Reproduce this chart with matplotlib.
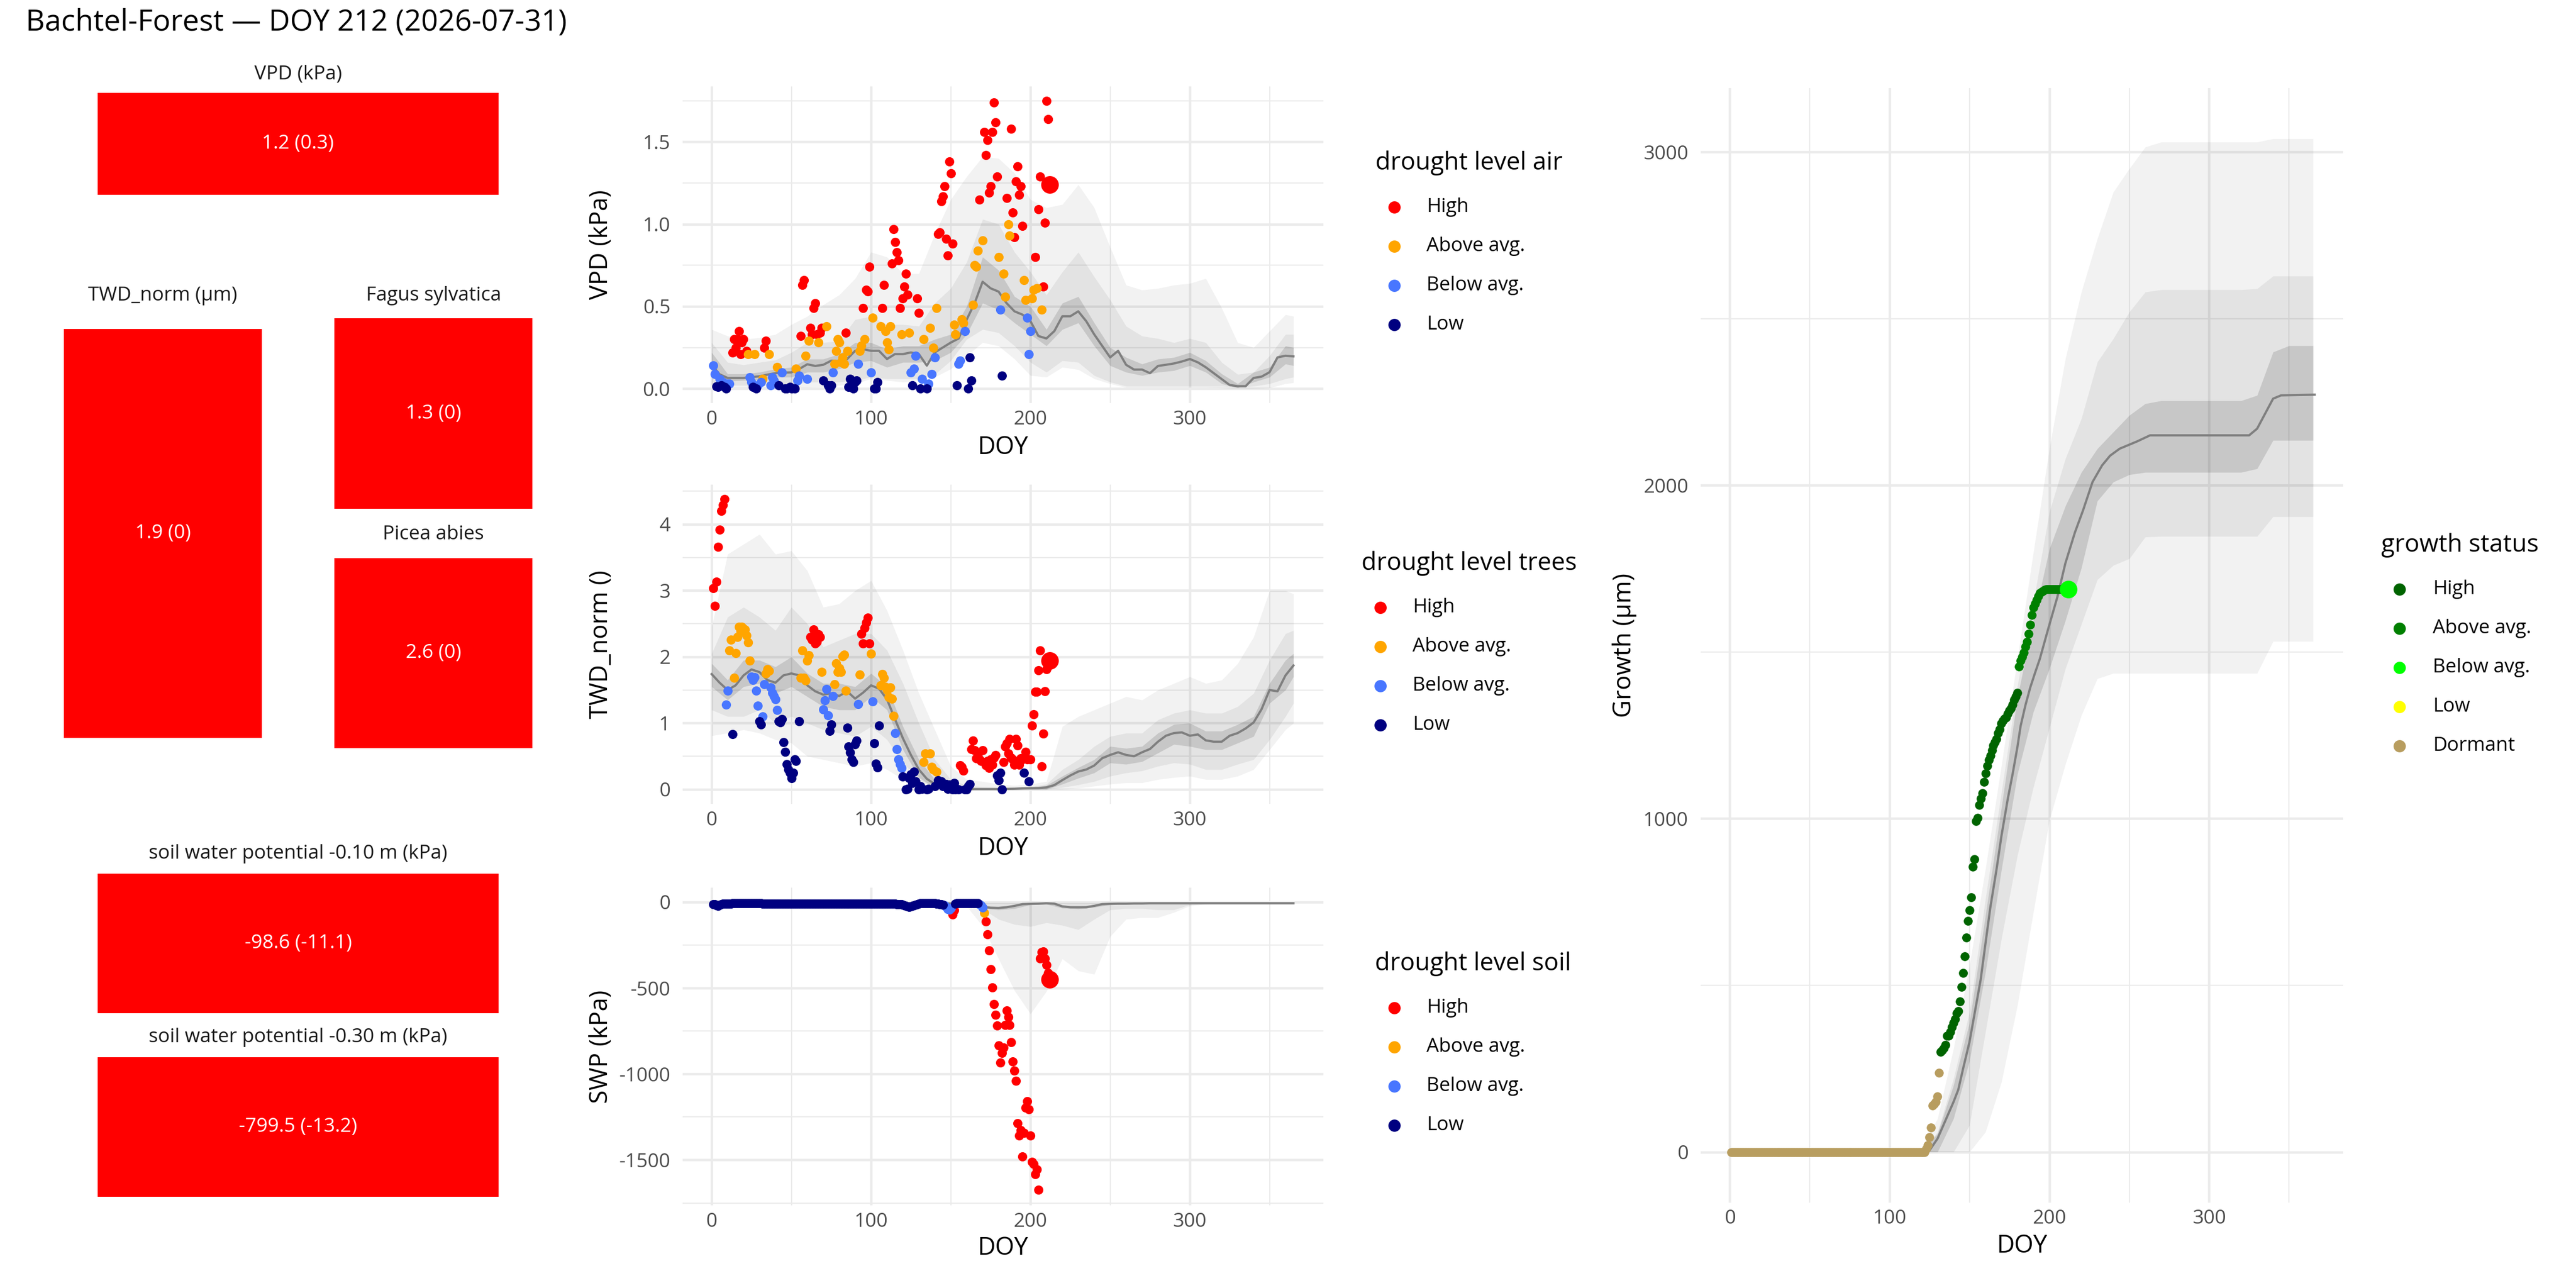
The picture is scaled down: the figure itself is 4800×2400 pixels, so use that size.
import matplotlib
matplotlib.use("Agg")
import matplotlib.pyplot as plt
from matplotlib.patches import Rectangle
from matplotlib.ticker import FormatStrFormatter

plt.rcParams['font.family'] = ['Open Sans', 'DejaVu Sans']
plt.rcParams['axes.unicode_minus'] = False

# ---------------------------------------------------------------- data
title = "Bachtel-Forest \u2014 DOY 212 (2026-07-31)"

class_labels = ["High", "Above avg.", "Below avg.", "Low"]
class_codes = ["H", "A", "B", "L"]
drought_colors = ["#FF0000", "#FFA500", "#4876FF", "#000080"]
growth_labels = ["High", "Above avg.", "Below avg.", "Low", "Dormant"]
growth_codes = ["H", "A", "B", "L", "D"]
growth_colors = ["#006400", "#008000", "#00FF00", "#FFFF00", "#B89D5F"]

tile_labels = ["VPD (kPa)", "TWD_norm (\u00b5m)", "Fagus sylvatica", "Picea abies",
               "soil water potential -0.10 m (kPa)", "soil water potential -0.30 m (kPa)"]
tile_values = ["1.2 (0.3)", "1.9 (0)", "1.3 (0)", "2.6 (0)", "-98.6 (-11.1)", "-799.5 (-13.2)"]

# ---- VPD daily observations (current year)
vpd_doy = [1, 2, 3, 4, 5, 6, 7, 8, 9, 10,
           11, 13, 14, 15, 16, 17, 18, 19, 20, 22,
           23, 24, 25, 26, 27, 28, 29, 31, 32, 33,
           34, 36, 37, 38, 39, 41, 42, 44, 46, 47,
           49, 50, 52, 53, 54, 55, 56, 57, 58, 59,
           60, 61, 62, 63, 64, 65, 66, 67, 68, 69,
           70, 72, 73, 74, 75, 76, 77, 78, 79, 80,
           81, 82, 83, 84, 85, 86, 87, 88, 89, 90,
           91, 92, 93, 94, 95, 96, 97, 98, 99, 100,
           101, 102, 103, 104, 106, 107, 108, 109, 110, 111,
           112, 113, 114, 115, 116, 117, 118, 119, 120, 121,
           122, 123, 124, 125, 126, 127, 128, 129, 130, 131,
           132, 133, 135, 136, 137, 138, 139, 140, 141, 142,
           143, 144, 145, 146, 147, 148, 149, 150, 151, 152,
           153, 154, 155, 156, 157, 158, 159, 161, 162, 163,
           164, 165, 166, 167, 168, 170, 171, 172, 173, 174,
           175, 176, 177, 178, 179, 180, 181, 182, 183, 184,
           185, 186, 187, 188, 189, 190, 191, 192, 193, 194,
           195, 196, 197, 198, 199, 200, 201, 202, 203, 204,
           205, 206, 207, 208, 209, 210, 211, 212]
vpd_val = [.14, .09, .015, .01, .06, .02, .04, .01, .00, .03,
           .03, .22, .30, .25, .30, .35, .21, .28, .30, .23,
           .21, .07, .04, .01, .21, .00, .02, .04, .06, .25,
           .29, .21, .02, .07, .05, .13, .02, .10, .00, .00,
           .01, .00, .00, .12, .05, .08, .32, .63, .66, .20,
           .06, .29, .37, .33, .49, .52, .33, .28, .34, .37,
           .05, .38, .02, .00, .02, .10, .15, .23, .30, .28,
           .16, .19, .15, .34, .23, .01, .06, .05, .00, .04,
           .05, .15, .23, .26, .49, .30, .60, .59, .74, .10,
           .43, .00, .00, .04, .38, .49, .63, .35, .28, .24,
           .38, .76, .97, .89, .83, .78, .49, .33, .55, .62,
           .70, .57, .34, .10, .02, .12, .20, .55, .46, .00,
           .06, .30, .00, .03, .37, .09, .25, .19, .49, .94,
           .95, 1.14, 1.17, 1.23, .91, .81, 1.38, 1.31, .88, .39,
           .33, .02, .15, .17, .42, .40, .35, .00, .19, .05,
           .51, .75, .74, .84, 1.15, .90, 1.56, 1.42, 1.51, 1.19,
           1.23, 1.56, 1.74, 1.62, 1.29, .80, .48, .08, .70, .56,
           1.16, 1.00, .93, 1.58, 1.07, .92, 1.26, 1.35, 1.18, 1.23,
           .99, .66, .54, .43, .21, .35, .55, .60, .80, .61,
           1.09, 1.29, .48, .62, 1.01, 1.75, 1.64, 1.24]
vpd_cls = ("BBLLBLBLLB" "BHHHHHHHHH" "ABBLALBBAH" "HABBBALBLL" "LLLABBHHHA"
           "BAHHHHHAHH" "LALLLBAAAA" "AAAHALLLLL" "LBAAHAHHHB" "ALLLAHHAAA"
           "AHHHHHHAHH" "HHABLBBHHL" "BALBABABAH" "HHHHHHHHHA" "ALBBAABLLL"
           "AAAAHAHHHH" "HHHHHABLAA" "HAAHHHHHHH" "HAABBBAAHA" "HHAHHHHH")

# ---- TWD_norm daily observations
twd_doy = [1, 2, 3, 4, 5, 6, 7, 8, 9, 10,
           11, 12, 13, 14, 15, 16, 17, 18, 19, 20,
           21, 22, 23, 24, 25, 26, 27, 28, 29, 30,
           31, 32, 33, 34, 35, 36, 37, 38, 39, 40,
           41, 42, 43, 44, 45, 46, 47, 48, 49, 50,
           51, 52, 53, 55, 56, 57, 58, 59, 60, 61,
           62, 63, 64, 65, 66, 67, 68, 69, 70, 71,
           72, 73, 74, 75, 76, 77, 78, 79, 80, 81,
           82, 83, 84, 85, 86, 87, 88, 89, 90, 91,
           92, 93, 94, 95, 96, 97, 98, 99, 100, 101,
           102, 103, 104, 105, 106, 107, 108, 109, 110, 111,
           112, 113, 114, 115, 116, 117, 118, 119, 120, 122,
           123, 124, 125, 126, 127, 128, 130, 131, 132, 133,
           134, 135, 136, 137, 138, 139, 140, 141, 142, 143,
           144, 145, 146, 147, 148, 149, 150, 151, 152, 153,
           154, 155, 156, 157, 158, 159, 160, 161, 162, 163,
           164, 165, 166, 167, 168, 169, 170, 171, 172, 173,
           174, 175, 176, 177, 178, 179, 180, 181, 182, 183,
           184, 185, 186, 187, 188, 189, 190, 191, 192, 193,
           194, 195, 196, 197, 198, 199, 200, 201, 202, 203,
           204, 205, 206, 207, 208, 209, 210, 211, 212]
twd_val = [3.04, 2.77, 3.13, 3.66, 3.92, 4.20, 4.29, 4.38, 1.28, 1.49,
           2.10, 2.26, 0.83, 1.68, 2.06, 2.30, 2.45, 2.39, 2.45, 2.43,
           2.41, 2.32, 2.22, 1.94, 1.70, 1.65, 1.69, 1.49, 1.26, 1.03,
           0.98, 1.10, 1.59, 1.75, 1.81, 1.79, 1.54, 1.46, 1.41, 1.36,
           1.20, 1.03, 1.01, 1.06, 0.71, 0.57, 0.38, 0.30, 0.25, 0.17,
           0.25, 0.45, 0.43, 1.03, 1.68, 2.10, 1.68, 1.64, 1.94, 2.02,
           2.30, 2.26, 2.41, 2.20, 2.23, 2.34, 2.30, 1.77, 1.21, 1.34,
           1.51, 1.12, 0.88, 0.98, 1.41, 1.59, 1.90, 1.77, 1.83, 1.77,
           2.01, 2.03, 1.49, 0.93, 0.65, 0.56, 0.45, 0.41, 0.68, 0.74,
           1.29, 1.73, 2.35, 2.20, 2.44, 2.52, 2.59, 2.20, 2.05, 1.33,
           0.70, 0.39, 0.33, 0.96, 1.57, 1.74, 1.68, 1.55, 1.50, 1.39,
           1.54, 1.37, 1.11, 0.85, 0.61, 0.45, 0.38, 0.32, 0.19, 0.00,
           0.01, 0.17, 0.23, 0.10, 0.27, 0.12, 0.00, 0.05, 0.01, 0.41,
           0.54, 0.00, 0.01, 0.54, 0.34, 0.30, 0.05, 0.27, 0.14, 0.10,
           0.12, 0.05, 0.05, 0.08, 0.01, 0.07, 0.03, 0.00, 0.10, 0.00,
           0.01, 0.00, 0.36, 0.34, 0.28, 0.00, 0.00, 0.05, 0.08, 0.61,
           0.74, 0.59, 0.47, 0.52, 0.45, 0.43, 0.59, 0.41, 0.36, 0.43,
           0.32, 0.45, 0.37, 0.48, 0.52, 0.21, 0.14, 0.25, 0.00, 0.41,
           0.65, 0.70, 0.54, 0.76, 0.48, 0.45, 0.37, 0.76, 0.66, 0.37,
           0.47, 0.45, 0.25, 0.57, 0.45, 0.12, 0.45, 0.96, 1.13, 1.47,
           1.47, 1.80, 2.10, 0.35, 0.84, 1.48, 1.81, 1.86, 1.94]
twd_cls = ("HHHHHHHHBB" "AALAAAAAAA" "AAAABBBBBL" "LBBAAABBBB" "BLLLLLLLLL"
           "LLLLAAAAAA" "HHHHHHHABB" "BBLLBAAAAA" "AAALLLLLLL" "BAHHHHHHAB"
           "LLLLAAAAAA" "AAABBBBBLL" "LLLLLLLLLA" "ALLAAALALL" "LLLLLLLLLL"
           "LLHHHLLLLH" "HHHHHHHHHH" "HHHHHLLLLH" "HHHHHHHHHH" "HHLHHLHHHH"
           "HHHHHHHHH")

# ---- soil water potential daily observations (DOY 1..212)
swp_doy = list(range(1, 213))
swp_val = [-12, -14, -20, -22, -15, -12, -10, -10, -9, -9,
           -9, -9, -8, -8, -8, -8, -8, -8, -8, -8,
           -8, -8, -8, -8, -8, -8, -8, -8, -8, -8,
           -8, -9, -9, -9, -9, -9, -9, -9, -9, -9,
           -9, -9, -9, -9, -9, -9, -9, -9, -9, -9,
           -9, -9, -9, -9, -9, -9, -9, -9, -9, -9,
           -9, -9, -9, -9, -9, -9, -9, -9, -9, -9,
           -9, -9, -9, -9, -9, -9, -9, -9, -9, -9,
           -9, -9, -9, -9, -9, -9, -9, -9, -9, -9,
           -9, -9, -9, -9, -9, -9, -9, -9, -9, -9,
           -9, -9, -9, -9, -9, -9, -9, -9, -9, -10,
           -10, -10, -10, -10, -11, -12, -12, -13, -14, -15,
           -18, -22, -25, -28, -26, -22, -18, -15, -12, -10,
           -8, -8, -7, -6, -6, -6, -6, -6, -7, -8,
           -9, -10, -12, -14, -15, -19, -28, -40, -45, -35,
           -72, -48, -10, -8, -6, -5, -5, -6, -8, -8,
           -8, -6, -5, -5, -5, -6, -7, -12, -18, -30,
           -63, -112, -187, -281, -392, -496, -594, -655, -718, -834,
           -935, -878, -845, -715, -631, -668, -715, -815, -927, -980,
           -1039, -1286, -1358, -1328, -1480, -1343, -1196, -1159, -1204, -1358,
           -1510, -1525, -1582, -1555, -1675, -329, -292, -287, -329, -366,
           -411, -449]
swp_cls = ("LLLLLLLLLL" "LLLLLLLLLL" "LLLLLLLLLL" "LLLLLLLLLL" "LLLLLLLLLL"
           "LLLLLLLLLL" "LLLLLLLLLL" "LLLLLLLLLL" "LLLLLLLLLL" "LLLLLLLLLL"
           "LLLLLLLLLL" "LLLLLLLLLL" "LLLLLLLLLL" "LLLLLLLLLL" "LLLLLBBBBB"
           "HHLLLLLLLL" "LLLLLLLBBB" "AHHHHHHHHH" "HHHHHHHHHH" "HHHHHHHHHH"
           "HHHHHHHHHH" "HH")

# ---- cumulative growth daily observations (DOY 1..212)
gro_doy = list(range(1, 213))
gro_val = [0, 0, 0, 0, 0, 0, 0, 0, 0, 0,
           0, 0, 0, 0, 0, 0, 0, 0, 0, 0,
           0, 0, 0, 0, 0, 0, 0, 0, 0, 0,
           0, 0, 0, 0, 0, 0, 0, 0, 0, 0,
           0, 0, 0, 0, 0, 0, 0, 0, 0, 0,
           0, 0, 0, 0, 0, 0, 0, 0, 0, 0,
           0, 0, 0, 0, 0, 0, 0, 0, 0, 0,
           0, 0, 0, 0, 0, 0, 0, 0, 0, 0,
           0, 0, 0, 0, 0, 0, 0, 0, 0, 0,
           0, 0, 0, 0, 0, 0, 0, 0, 0, 0,
           0, 0, 0, 0, 0, 0, 0, 0, 0, 0,
           0, 0, 0, 0, 0, 0, 0, 0, 0, 0,
           0, 0, 9, 20, 45, 74, 139, 145, 151, 166,
           237, 300, 306, 312, 322, 348, 349, 360, 375, 387,
           399, 416, 422, 452, 495, 537, 587, 643, 693, 725,
           764, 856, 879, 992, 1002, 1041, 1061, 1077, 1110, 1136,
           1159, 1177, 1189, 1206, 1220, 1230, 1239, 1256, 1268, 1285,
           1294, 1300, 1304, 1315, 1324, 1331, 1342, 1356, 1366, 1377,
           1456, 1474, 1486, 1499, 1516, 1530, 1555, 1582, 1611, 1633,
           1645, 1656, 1667, 1677, 1680, 1683, 1686, 1688, 1688, 1688,
           1688, 1688, 1688, 1688, 1688, 1688, 1688, 1688, 1688, 1688,
           1688, 1688]
gro_cls = ("DDDDDDDDDD" "DDDDDDDDDD" "DDDDDDDDDD" "DDDDDDDDDD" "DDDDDDDDDD"
           "DDDDDDDDDD" "DDDDDDDDDD" "DDDDDDDDDD" "DDDDDDDDDD" "DDDDDDDDDD"
           "DDDDDDDDDD" "DDDDDDDDDD" "DDDDDDDDDD" "DHHHHHHHHH" "HHHHHHHHHH"
           "HHHHHHHHHH" "HHHHHHHHHH" "HHHHHHHHHH" "AAAAAAAAAA" "AAAAAAAAAA"
           "AAAAAAAAAA" "AB")

# ---- climatology: median (5-day) and quantile bands (10-day)
med_doy = list(range(0, 366, 5))
band_doy = list(range(0, 361, 10)) + [365]

vpd_med = [.145, .087, .065, .065, .065, .07, .075, .085, .094, .097,
           .099, .12, .148, .138, .145, .17, .167, .18, .23, .24,
           .23, .23, .18, .21, .21, .22, .21, .14, .22, .25,
           .28, .305, .42, .52, .65, .61, .59, .52, .47, .45,
           .41, .32, .305, .35, .44, .44, .47, .41, .33, .26,
           .19, .23, .145, .116, .116, .094, .138, .145, .153, .165,
           .18, .16, .13, .094, .058, .022, .015, .015, .065, .073,
           .10, .19, .20, .196]
vpd_q_outer_lo = [.015, .007, .007, .007, .007, .007, .007, .01, .02, .03,
                  .06, .05, .04, .05, .07, .12, .20, .28, .26, .18,
                  .08, .07, .13, .116, .06, .03, .007, .007, .007, .007,
                  .007, .007, .005, 0, 0, .005, .03, .036]
vpd_q_outer_hi = [.36, .32, .30, .31, .33, .39, .44, .51, .57, .67,
                  .83, .80, .70, .70, .94, 1.15, 1.29, 1.41, 1.40, 1.31,
                  1.15, 1.10, 1.12, 1.24, 1.10, .86, .63, .60, .61, .63,
                  .64, .67, .49, .28, .25, .35, .45, .44]
vpd_q_mid_lo = [.03, .02, .02, .02, .02, .02, .04, .04, .04, .05,
                .07, .06, .06, .06, .087, .17, .30, .36, .34, .26,
                .16, .10, .17, .16, .08, .04, .015, .015, .015, .015,
                .015, .015, .015, .008, .015, .03, .06, .07]
vpd_q_mid_hi = [.28, .16, .145, .16, .174, .22, .28, .28, .29, .42,
                .44, .39, .39, .38, .52, .61, .77, 1.03, 1.0, .83,
                .71, .57, .71, .83, .68, .54, .38, .32, .305, .28,
                .305, .28, .16, .087, .10, .20, .33, .33]
vpd_q_in_lo = [.10, .045, .05, .055, .07, .07, .10, .10, .12, .16,
               .17, .13, .16, .16, .17, .22, .33, .52, .48, .40,
               .33, .26, .36, .40, .26, .14, .10, .08, .10, .11,
               .14, .10, .03, .005, .04, .07, .15, .14]
vpd_q_in_hi = [.22, .09, .09, .10, .12, .13, .18, .18, .21, .28,
               .28, .24, .26, .26, .30, .33, .50, .80, .72, .56,
               .50, .36, .52, .56, .40, .25, .19, .15, .18, .19,
               .22, .17, .09, .03, .10, .13, .26, .25]

twd_med = [1.74, 1.61, 1.50, 1.57, 1.72, 1.81, 1.77, 1.65, 1.61, 1.72,
           1.75, 1.72, 1.57, 1.48, 1.43, 1.45, 1.41, 1.48, 1.37, 1.46,
           1.57, 1.52, 1.36, 1.06, .77, .52, .30, .16, .08, .03,
           .01, .005, .005, .005, .005, .005, .005, .008, .01, .015,
           .018, .02, .03, .065, .14, .21, .27, .30, .36, .47,
           .52, .56, .52, .50, .56, .61, .72, .81, .85, .86,
           .81, .83, .74, .72, .72, .81, .85, .92, 1.01, 1.21,
           1.50, 1.48, 1.72, 1.87]
twd_q_outer_lo = [.81, .85, .90, .85, .75, .70, .50, .45, .40, .35,
                  .40, .30, .15, .03, 0, 0, 0, 0, 0, 0,
                  0, 0, 0, .02, .05, .08, .10, .10, .15, .18,
                  .20, .15, .15, .20, .30, .60, .90, 1.0]
twd_q_outer_hi = [2.45, 3.55, 3.7, 3.85, 3.55, 3.6, 3.3, 2.75, 2.8, 3.0,
                  3.15, 2.7, 2.1, 1.45, .9, .35, .15, .12, .08, .06,
                  .08, .12, .95, 1.1, 1.2, 1.3, 1.4, 1.35, 1.5, 1.6,
                  1.7, 1.6, 1.65, 1.9, 2.3, 3.0, 3.0, 2.95]
twd_q_mid_lo = [1.2, 1.1, 1.1, 1.2, 1.0, 1.1, 1.0, .9, .85, .8,
                .95, .75, .4, .15, .03, 0, 0, 0, 0, 0,
                0, 0, .03, .07, .12, .2, .25, .28, .35, .4,
                .38, .3, .3, .38, .45, .75, 1.1, 1.3]
twd_q_mid_hi = [2.05, 2.6, 2.75, 2.6, 2.4, 2.75, 2.5, 2.15, 2.25, 2.35,
                2.35, 2.1, 1.6, 1.0, .45, .15, .06, .04, .03, .03,
                .04, .08, .3, .45, .65, .8, .85, .85, 1.05, 1.15,
                1.2, 1.15, 1.15, 1.25, 1.45, 1.95, 2.35, 2.4]
twd_q_in_lo = [1.55, 1.35, 1.55, 1.6, 1.45, 1.55, 1.4, 1.25, 1.2, 1.2,
               1.4, 1.2, .6, .18, .02, 0, 0, 0, 0, 0,
               0, 0, .08, .17, .25, .4, .38, .42, .55, .68,
               .65, .6, .6, .7, .8, 1.3, 1.5, 1.7]
twd_q_in_hi = [1.9, 1.65, 1.95, 1.95, 1.85, 2.0, 1.75, 1.6, 1.6, 1.55,
               1.75, 1.55, .95, .45, .15, .03, .01, .01, .01, .02,
               .03, .06, .2, .33, .45, .65, .62, .65, .85, .98,
               1.0, .88, .88, .98, 1.1, 1.6, 1.95, 2.05]

swp_med = [-8, -8, -8, -8, -8, -8, -8, -8, -8, -8,
           -8, -8, -8, -8, -8, -8, -8, -8, -8, -8,
           -8, -8, -8, -8, -8, -8, -8, -8, -8, -8,
           -8, -8, -8, -12, -27, -33, -34, -30, -22, -12,
           -10, -9, -7, -9, -25, -30, -30, -30, -22, -12,
           -10, -9, -9, -8, -8, -7, -7, -7, -7, -7,
           -7, -7, -7, -7, -7, -7, -7, -7, -7, -7,
           -7, -7, -7, -7]
swp_q_outer_lo = [-12, -12, -12, -12, -12, -12, -12, -12, -12, -12,
                  -12, -12, -12, -12, -12, -12, -25, -140, -330, -515,
                  -650, -520, -330, -400, -420, -200, -100, -90, -90, -60,
                  -22, -12, -10, -10, -10, -10, -10, -10]
swp_q_outer_hi = [-3, -3, -3, -3, -3, -3, -3, -3, -3, -3,
                  -3, -3, -3, -3, -3, -3, -3, -3, -3, -3,
                  -3, -3, -3, -3, -3, -3, -3, -3, -3, -3,
                  -3, -3, -3, -3, -3, -3, -3, -3]
swp_q_mid_lo = [-10, -10, -10, -10, -10, -10, -10, -10, -10, -10,
                -10, -10, -10, -10, -10, -10, -12, -40, -100, -130,
                -142, -120, -135, -160, -100, -45, -38, -38, -45, -45,
                -15, -10, -9, -9, -9, -9, -9, -9]
swp_q_mid_hi = [-4, -4, -4, -4, -4, -4, -4, -4, -4, -4,
                -4, -4, -4, -4, -4, -4, -4, -4, -4, -4,
                -4, -4, -4, -4, -4, -4, -4, -4, -4, -4,
                -4, -4, -4, -4, -4, -4, -4, -4]
swp_q_in_lo = [-9, -9, -9, -9, -9, -9, -9, -9, -9, -9,
               -9, -9, -9, -9, -9, -9, -10, -35, -45, -38,
               -15, -12, -35, -40, -30, -15, -12, -11, -10, -10,
               -9, -8, -8, -8, -8, -8, -8, -8]
swp_q_in_hi = [-6, -6, -6, -6, -6, -6, -6, -6, -6, -6,
               -6, -6, -6, -6, -6, -6, -7, -22, -28, -18,
               -6, -4, -20, -25, -15, -7, -6, -6, -5, -5,
               -5, -5, -5, -5, -5, -5, -5, -5]

gro_med_doy = [0, 122, 125, 130, 135, 140, 143, 146, 150, 153,
               157, 160, 163, 167, 170, 174, 177, 180, 182, 185,
               188, 191, 194, 199, 202, 205, 210, 216, 221, 227,
               233, 238, 244, 255, 263, 325, 330, 335, 340, 345,
               366]
gro_med = [0, 0, 5, 40, 95, 150, 187, 250, 330, 410,
           517, 625, 732, 850, 948, 1060, 1134, 1215, 1278, 1340,
           1393, 1437, 1479, 1565, 1615, 1665, 1766, 1859, 1924, 2010,
           2060, 2089, 2110, 2132, 2150, 2150, 2170, 2215, 2260, 2270,
           2272]
gro_q_outer_lo = [0, 0, 0, 0, 0, 0, 0, 0, 0, 0,
                  0, 0, 0, 0, 0, 0, 60, 210, 440, 720,
                  995, 1163, 1310, 1420, 1436, 1436, 1436, 1436, 1436, 1436,
                  1436, 1436, 1436, 1436, 1532, 1532, 1532, 1532]
gro_q_outer_hi = [0, 0, 0, 0, 0, 0, 0, 0, 0, 0,
                  0, 0, 10, 100, 310, 560, 850, 1160, 1480, 1800,
                  2110, 2380, 2580, 2740, 2880, 2950, 3015, 3030, 3030, 3030,
                  3030, 3030, 3030, 3030, 3040, 3040, 3040, 3040]
gro_q_mid_lo = [0, 0, 0, 0, 0, 0, 0, 0, 0, 0,
                0, 0, 0, 0, 0, 80, 360, 640, 890, 1095,
                1272, 1450, 1583, 1717, 1760, 1780, 1845, 1847, 1847, 1847,
                1847, 1847, 1847, 1847, 1906, 1906, 1906, 1906]
gro_q_mid_hi = [0, 0, 0, 0, 0, 0, 0, 0, 0, 0,
                0, 0, 0, 60, 220, 420, 760, 1080, 1400, 1650,
                1920, 2080, 2200, 2370, 2440, 2520, 2580, 2587, 2587, 2587,
                2587, 2587, 2587, 2590, 2628, 2628, 2628, 2628]
gro_q_in_lo = [0, 0, 0, 0, 0, 0, 0, 0, 0, 0,
               0, 0, 0, 0, 100, 273, 540, 847, 1134, 1321,
               1450, 1594, 1752, 1953, 2010, 2032, 2039, 2039, 2039, 2039,
               2039, 2039, 2039, 2050, 2135, 2135, 2135, 2135]
gro_q_in_hi = [0, 0, 0, 0, 0, 0, 0, 0, 0, 0,
               0, 0, 0, 55, 200, 388, 710, 1034, 1364, 1594,
               1809, 1938, 2039, 2110, 2160, 2210, 2245, 2254, 2254, 2254,
               2254, 2254, 2254, 2270, 2400, 2419, 2419, 2419]

# ---------------------------------------------------------------- layout
W, H, DPI = 4800, 2400, 300
fig = plt.figure(figsize=(W / DPI, H / DPI), dpi=DPI)
fig.patch.set_facecolor("white")

XLIM = (-18.2, 383.8)
GRID_C = "#EBEBEB"
TICK_C = "#4D4D4D"
MED_C = "#7F7F7F"


def px_axes(rect):
    x0, y0, x1, y1 = rect
    return fig.add_axes([x0 / W, 1 - y1 / H, (x1 - x0) / W, (y1 - y0) / H])


def style_panel(ax, rect, ylim, ymaj, ymin, ylab, fmt, ylab_x=1120, xlab_off=83):
    x0, y0, x1, y1 = rect
    ax.set_xlim(*XLIM)
    ax.set_ylim(*ylim)
    ax.set_xticks([0, 100, 200, 300])
    ax.set_xticks([50, 150, 250, 350], minor=True)
    ax.set_yticks(ymaj)
    ax.set_yticks(ymin, minor=True)
    ax.yaxis.set_major_formatter(FormatStrFormatter(fmt))
    ax.grid(which="major", color=GRID_C, lw=1.1)
    ax.grid(which="minor", color=GRID_C, lw=0.55)
    ax.set_axisbelow(True)
    for s in ax.spines.values():
        s.set_visible(False)
    ax.tick_params(which="both", length=0, labelsize=8.8, labelcolor=TICK_C)
    ax.tick_params(axis="x", pad=3)
    ax.tick_params(axis="y", pad=5.5)
    ax.set_xlabel("DOY", fontsize=11)
    ax.set_ylabel(ylab, fontsize=11)
    ax.xaxis.set_label_coords(0.5, -xlab_off / (y1 - y0))
    ax.xaxis.label.set_va("center")
    ax.yaxis.set_label_coords((ylab_x - x0) / (x1 - x0), 0.5)
    ax.yaxis.label.set_va("center")


def draw_bands(ax, lo_o, hi_o, lo_m, hi_m, lo_i, hi_i, med_x, med):
    ax.fill_between(band_doy, lo_o, hi_o, color="black", alpha=0.05, lw=0, zorder=1)
    ax.fill_between(band_doy, lo_m, hi_m, color="black", alpha=0.06, lw=0, zorder=1)
    ax.fill_between(band_doy, lo_i, hi_i, color="black", alpha=0.12, lw=0, zorder=1)
    ax.plot(med_x, med, color=MED_C, lw=1.0, zorder=2)


def draw_points(ax, doy, val, cls, codes, colors, s=17, s_big=62):
    for code, col in zip(codes, colors):
        xs = [d for d, c in zip(doy, cls) if c == code]
        ys = [v for v, c in zip(val, cls) if c == code]
        if xs:
            ax.scatter(xs, ys, s=s, color=col, lw=0, zorder=3)
    last = codes.index(cls[-1])
    ax.scatter([doy[-1]], [val[-1]], s=s_big, color=colors[last], lw=0, zorder=4)


# VPD panel
r_vpd = (1272, 161, 2466, 751)
ax1 = px_axes(r_vpd)
draw_bands(ax1, vpd_q_outer_lo, vpd_q_outer_hi, vpd_q_mid_lo, vpd_q_mid_hi,
           vpd_q_in_lo, vpd_q_in_hi, med_doy, vpd_med)
draw_points(ax1, vpd_doy, vpd_val, vpd_cls, class_codes, drought_colors)
style_panel(ax1, r_vpd, (-0.0875, 1.8375), [0, 0.5, 1.0, 1.5], [0.25, 0.75, 1.25, 1.75],
            "VPD (kPa)", "%.1f")

# TWD panel
r_twd = (1272, 903, 2466, 1498)
ax2 = px_axes(r_twd)
draw_bands(ax2, twd_q_outer_lo, twd_q_outer_hi, twd_q_mid_lo, twd_q_mid_hi,
           twd_q_in_lo, twd_q_in_hi, med_doy, twd_med)
draw_points(ax2, twd_doy, twd_val, twd_cls, class_codes, drought_colors)
style_panel(ax2, r_twd, (-0.219, 4.599), [0, 1, 2, 3, 4], [0.5, 1.5, 2.5, 3.5, 4.5],
            "TWD_norm ()", "%d")

# SWP panel
r_swp = (1272, 1654, 2466, 2246)
ax3 = px_axes(r_swp)
draw_bands(ax3, swp_q_outer_lo, swp_q_outer_hi, swp_q_mid_lo, swp_q_mid_hi,
           swp_q_in_lo, swp_q_in_hi, med_doy, swp_med)
draw_points(ax3, swp_doy, swp_val, swp_cls, class_codes, drought_colors)
style_panel(ax3, r_swp, (-1764, 84), [0, -500, -1000, -1500], [-250, -750, -1250, -1750],
            "SWP (kPa)", "%d", xlab_off=80)

# Growth panel
r_gro = (3169, 164, 4366, 2241)
ax4 = px_axes(r_gro)
draw_bands(ax4, gro_q_outer_lo, gro_q_outer_hi, gro_q_mid_lo, gro_q_mid_hi,
           gro_q_in_lo, gro_q_in_hi, gro_med_doy, gro_med)
draw_points(ax4, gro_doy, gro_val, gro_cls, growth_codes, growth_colors, s=16, s_big=62)
style_panel(ax4, r_gro, (-152, 3192), [0, 1000, 2000, 3000], [500, 1500, 2500],
            "Growth (\u00b5m)", "%d", ylab_x=3027, xlab_off=81)

# ---------------------------------------------------------------- overlay (title, tiles, legends)
ov = fig.add_axes([0, 0, 1, 1])
ov.set_xlim(0, W)
ov.set_ylim(H, 0)
ov.axis("off")
ov.patch.set_alpha(0)

ov.text(48, 42, title, fontsize=13.2, ha="left", va="center", color="black")

tile_rects = [(182, 173, 929, 363), (119, 613, 488, 1375), (623, 593, 992, 948),
              (623, 1040, 992, 1394), (182, 1628, 929, 1888), (182, 1970, 929, 2230)]
tile_label_y = [139, 551, 551, 996, 1591, 1933]
for (x0, y0, x1, y1), lab, val, ly in zip(tile_rects, tile_labels, tile_values, tile_label_y):
    ov.add_patch(Rectangle((x0, y0), x1 - x0, y1 - y0, color="#FF0000", lw=0))
    ov.text((x0 + x1) / 2, ly, lab, fontsize=8.8, ha="center", va="center", color="#1A1A1A")
    ov.text((x0 + x1) / 2, (y0 + y1) / 2, val, fontsize=8.8, ha="center", va="center",
            color="white")


def legend(title_txt, tx, ty, mx, lx, labels, colors, first_dy=82, step=73):
    ov.text(tx, ty, title_txt, fontsize=11, ha="left", va="center", color="black")
    for i, (lab, col) in enumerate(zip(labels, colors)):
        y = ty + first_dy + i * step
        ov.scatter([mx], [y], s=30, color=col, lw=0)
        ov.text(lx, y, lab, fontsize=8.8, ha="left", va="center", color="black")


legend("drought level air", 2563, 304, 2598, 2658, class_labels, drought_colors)
legend("drought level trees", 2537, 1050, 2572, 2632, class_labels, drought_colors)
legend("drought level soil", 2562, 1796, 2598, 2658, class_labels, drought_colors)
legend("growth status", 4437, 1016, 4471, 4533, growth_labels, growth_colors)

fig.savefig("out.png", dpi=DPI, facecolor="white")
